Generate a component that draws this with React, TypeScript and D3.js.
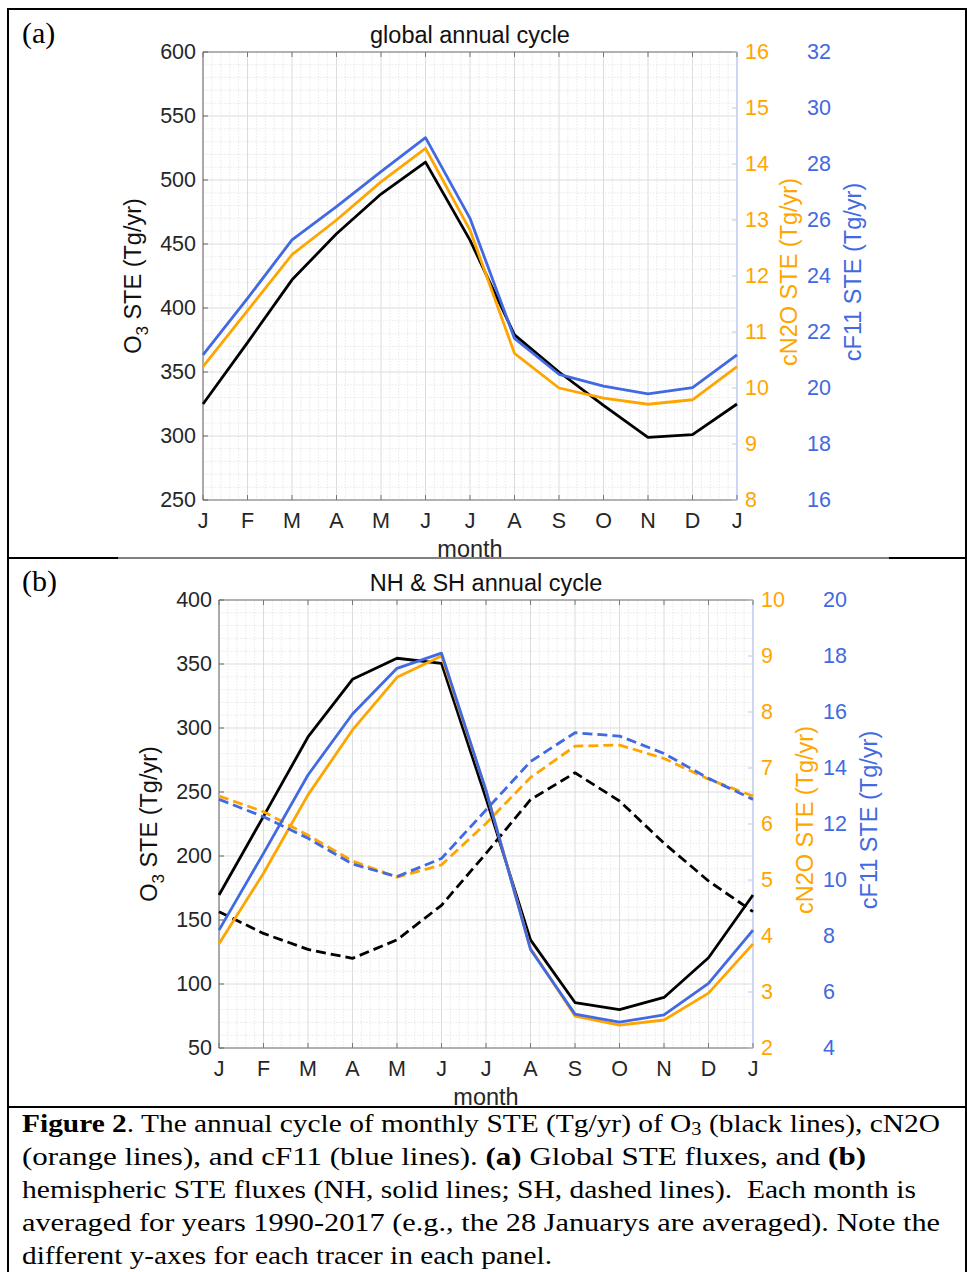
import React from "react";
import * as d3 from "d3";

const months = ["J", "F", "M", "A", "M", "J", "J", "A", "S", "O", "N", "D", "J"];

// Panel (a): global annual cycle
const globalO3 = [325, 373, 422, 458, 489, 514, 453, 379, 350, 324, 299, 301, 325];
const globalN2O = [10.38, 11.38, 12.38, 13.0, 13.68, 14.28, 12.82, 10.62, 10.0, 9.82, 9.71, 9.79, 10.38];
const globalF11 = [21.18, 23.2, 25.29, 26.48, 27.73, 28.94, 26.06, 21.77, 20.49, 20.07, 19.79, 20.01, 21.18];

// Panel (b): NH (solid) & SH (dashed)
const nhO3 = [169.5, 231, 293, 338, 354.5, 350.5, 245, 134.5, 85.5, 80, 89.5, 120.5, 169.5];
const shO3 = [156.5, 139.5, 127, 120, 134.5, 161.5, 202, 244, 265, 243, 210, 180.5, 156.5];
const nhN2O = [3.86, 5.12, 6.52, 7.68, 8.62, 9.0, 6.6, 3.78, 2.57, 2.41, 2.5, 2.98, 3.86];
const shN2O = [6.5, 6.22, 5.8, 5.34, 5.05, 5.27, 6.01, 6.83, 7.39, 7.41, 7.17, 6.8, 6.5];
const nhF11 = [8.21, 10.95, 13.75, 15.93, 17.56, 18.1, 13.2, 7.52, 5.21, 4.92, 5.18, 6.31, 8.21];
const shF11 = [12.88, 12.26, 11.49, 10.57, 10.12, 10.77, 12.5, 14.23, 15.26, 15.14, 14.52, 13.63, 12.88];

const captionLines = [
  [{ t: "Figure 2", b: true }, { t: ". The annual cycle of monthly STE (Tg/yr) of O" }, { t: "3", sub: true }, { t: " (black lines), cN2O" }],
  [{ t: "(orange lines), and cF11 (blue lines). " }, { t: "(a)", b: true }, { t: " Global STE fluxes, and " }, { t: "(b)", b: true }],
  [{ t: "hemispheric STE fluxes (NH, solid lines; SH, dashed lines).\u00A0 Each month is" }],
  [{ t: "averaged for years 1990-2017 (e.g., the 28 Januarys are averaged). Note the" }],
  [{ t: "different y-axes for each tracer in each panel." }],
];
const captionWidths = [918, 844, 894, 918, 530];

const ORANGE = "#FFA500";
const BLUE = "#4169E1";
const SANS = "'Liberation Sans', Arial, Helvetica, sans-serif";
const SERIF = "'Liberation Serif', 'Times New Roman', serif";

type Series = { values: number[]; axis: "o3" | "n2o" | "f11"; color: string; dashed?: boolean };

type PanelProps = {
  left: number; right: number; top: number; bottom: number;
  title: string;
  o3Domain: [number, number]; n2oDomain: [number, number]; f11Domain: [number, number];
  series: Series[];
};

const TICK_FS = 21.5;
const LABEL_FS = 23.5;

function Panel(p: PanelProps) {
  const x = d3.scaleLinear().domain([0, 12]).range([p.left, p.right]);
  const yO3 = d3.scaleLinear().domain(p.o3Domain).range([p.bottom, p.top]);
  const yN2O = d3.scaleLinear().domain(p.n2oDomain).range([p.bottom, p.top]);
  const yF11 = d3.scaleLinear().domain(p.f11Domain).range([p.bottom, p.top]);
  const scales = { o3: yO3, n2o: yN2O, f11: yF11 };

  const o3Ticks = d3.range(p.o3Domain[0], p.o3Domain[1] + 0.01, 50);
  const o3Minor = d3.range(p.o3Domain[0], p.o3Domain[1] + 0.01, 10).filter((v) => v % 50 !== 0);
  const n2oTicks = d3.range(p.n2oDomain[0], p.n2oDomain[1] + 0.01, 1);
  const f11Ticks = d3.range(p.f11Domain[0], p.f11Domain[1] + 0.01, 2);
  const xMinor = d3.range(0, 12.001, 0.2).filter((v) => Math.abs(v - Math.round(v)) > 0.01);

  const cx = (p.left + p.right) / 2;
  const cy = (p.top + p.bottom) / 2;

  return (
    <g>
      {/* minor grid */}
      {xMinor.map((v, i) => (
        <line key={"xm" + i} x1={x(v)} x2={x(v)} y1={p.top} y2={p.bottom} stroke="#e2e2e2" strokeWidth={0.8} strokeDasharray="1.5,1.5" />
      ))}
      {o3Minor.map((v, i) => (
        <line key={"ym" + i} x1={p.left} x2={p.right} y1={yO3(v)} y2={yO3(v)} stroke="#e2e2e2" strokeWidth={0.8} strokeDasharray="1.5,1.5" />
      ))}
      {/* major grid */}
      {months.map((m, i) => (
        <line key={"xg" + i} x1={x(i)} x2={x(i)} y1={p.top} y2={p.bottom} stroke="#dcdcdc" strokeWidth={1} />
      ))}
      {o3Ticks.map((v, i) => (
        <line key={"yg" + i} x1={p.left} x2={p.right} y1={yO3(v)} y2={yO3(v)} stroke="#dcdcdc" strokeWidth={1} />
      ))}
      {/* axes box */}
      <line x1={p.left} x2={p.right} y1={p.top} y2={p.top} stroke="#777" strokeWidth={1} />
      <line x1={p.left} x2={p.right} y1={p.bottom} y2={p.bottom} stroke="#777" strokeWidth={1} />
      <line x1={p.left} x2={p.left} y1={p.top} y2={p.bottom} stroke="#666" strokeWidth={1} />
      <line x1={p.right} x2={p.right} y1={p.top} y2={p.bottom} stroke="#b9c7f5" strokeWidth={1.2} />
      {/* x ticks */}
      {months.map((m, i) => (
        <g key={"xt" + i}>
          <line x1={x(i)} x2={x(i)} y1={p.top} y2={p.top + 5} stroke="#777" />
          <line x1={x(i)} x2={x(i)} y1={p.bottom} y2={p.bottom - 5} stroke="#777" />
          <text x={x(i)} y={p.bottom + 21} textAnchor="middle" dominantBaseline="central" fontSize={TICK_FS} fill="#262626" fontFamily={SANS}>{m}</text>
        </g>
      ))}
      {/* left ticks */}
      {o3Ticks.map((v, i) => (
        <g key={"lt" + i}>
          <line x1={p.left} x2={p.left + 5} y1={yO3(v)} y2={yO3(v)} stroke="#666" />
          <text x={p.left - 7} y={yO3(v)} textAnchor="end" dominantBaseline="central" fontSize={TICK_FS} fill="#262626" fontFamily={SANS}>{v}</text>
        </g>
      ))}
      {/* right ticks */}
      {n2oTicks.map((v, i) => (
        <g key={"rt" + i}>
          <line x1={p.right} x2={p.right - 5} y1={yN2O(v)} y2={yN2O(v)} stroke="#b9c7f5" />
          <text x={p.right + 8} y={yN2O(v)} textAnchor="start" dominantBaseline="central" fontSize={TICK_FS} fill={ORANGE} fontFamily={SANS}>{v}</text>
        </g>
      ))}
      {f11Ticks.map((v, i) => (
        <text key={"bt" + i} x={p.right + 70} y={yF11(v)} textAnchor="start" dominantBaseline="central" fontSize={TICK_FS} fill={BLUE} fontFamily={SANS}>{v}</text>
      ))}
      {/* series */}
      {p.series.map((s, i) => {
        const sc = scales[s.axis];
        const line = d3.line<number>().x((_, j) => x(j)).y((v) => sc(v));
        return (
          <path key={"s" + i} d={line(s.values) || ""} fill="none" stroke={s.color} strokeWidth={2.8}
            strokeDasharray={s.dashed ? "10,5" : undefined} strokeLinejoin="round" />
        );
      })}
      {/* labels */}
      <text x={cx} y={p.top - 17} textAnchor="middle" dominantBaseline="central" fontSize={LABEL_FS} fill="#111" fontFamily={SANS}>{p.title}</text>
      <text x={cx} y={p.bottom + 49} textAnchor="middle" dominantBaseline="central" fontSize={LABEL_FS} fill="#262626" fontFamily={SANS}>month</text>
      <text transform={`translate(${p.left - 70},${cy}) rotate(-90)`} textAnchor="middle" dominantBaseline="central" fontSize={LABEL_FS} fill="#111" fontFamily={SANS}>
        O<tspan baselineShift="sub" fontSize={17}>3</tspan> STE (Tg/yr)
      </text>
      <text transform={`translate(${p.right + 52},${cy - 4}) rotate(-90)`} textAnchor="middle" dominantBaseline="central" fontSize={LABEL_FS} fill={ORANGE} fontFamily={SANS}>cN2O STE (Tg/yr)</text>
      <text transform={`translate(${p.right + 116},${cy - 4}) rotate(-90)`} textAnchor="middle" dominantBaseline="central" fontSize={LABEL_FS} fill={BLUE} fontFamily={SANS}>cF11 STE (Tg/yr)</text>
    </g>
  );
}

export default function App() {
  return (
    <svg width={967} height={1272} style={{ position: "absolute", left: 0, top: 0, background: "#fff" }}>
      <rect x={0} y={0} width={967} height={1272} fill="#fff" />
      {/* outer frame */}
      <line x1={7} x2={967} y1={9} y2={9} stroke="#000" strokeWidth={2} />
      <line x1={8} x2={8} y1={8} y2={1272} stroke="#000" strokeWidth={2} />
      <line x1={966} x2={966} y1={8} y2={1272} stroke="#000" strokeWidth={2} />
      <line x1={7} x2={118} y1={558} y2={558} stroke="#000" strokeWidth={2} />
      <line x1={118} x2={889} y1={558} y2={558} stroke="#000" strokeWidth={1.2} />
      <line x1={889} x2={967} y1={558} y2={558} stroke="#000" strokeWidth={2} />
      <line x1={7} x2={967} y1={1107} y2={1107} stroke="#000" strokeWidth={2} />

      <text x={22} y={32} dominantBaseline="central" fontSize={30} fontFamily={SERIF} fill="#000">(a)</text>
      <text x={22} y={580} dominantBaseline="central" fontSize={30} fontFamily={SERIF} fill="#000">(b)</text>

      <Panel left={203} right={737} top={52} bottom={500} title="global annual cycle"
        o3Domain={[250, 600]} n2oDomain={[8, 16]} f11Domain={[16, 32]}
        series={[
          { values: globalO3, axis: "o3", color: "#000" },
          { values: globalN2O, axis: "n2o", color: ORANGE },
          { values: globalF11, axis: "f11", color: BLUE },
        ]} />
      <Panel left={219} right={753} top={600} bottom={1048} title="NH & SH annual cycle"
        o3Domain={[50, 400]} n2oDomain={[2, 10]} f11Domain={[4, 20]}
        series={[
          { values: nhO3, axis: "o3", color: "#000" },
          { values: shO3, axis: "o3", color: "#000", dashed: true },
          { values: nhN2O, axis: "n2o", color: ORANGE },
          { values: shN2O, axis: "n2o", color: ORANGE, dashed: true },
          { values: nhF11, axis: "f11", color: BLUE },
          { values: shF11, axis: "f11", color: BLUE, dashed: true },
        ]} />

      {captionLines.map((ln, i) => (
        <text key={"c" + i} x={22} y={1132 + i * 33} fontSize={26} fontFamily={SERIF} fill="#000"
          textLength={captionWidths[i]} lengthAdjust="spacingAndGlyphs">
          {ln.map((seg: any, j: number) => (
            <tspan key={j} fontWeight={seg.b ? "bold" : "normal"} fontSize={seg.sub ? 18 : 26} dy={seg.sub ? 3 : (j > 0 && ln[j - 1].sub ? -3 : 0)}>{seg.t}</tspan>
          ))}
        </text>
      ))}
    </svg>
  );
}
